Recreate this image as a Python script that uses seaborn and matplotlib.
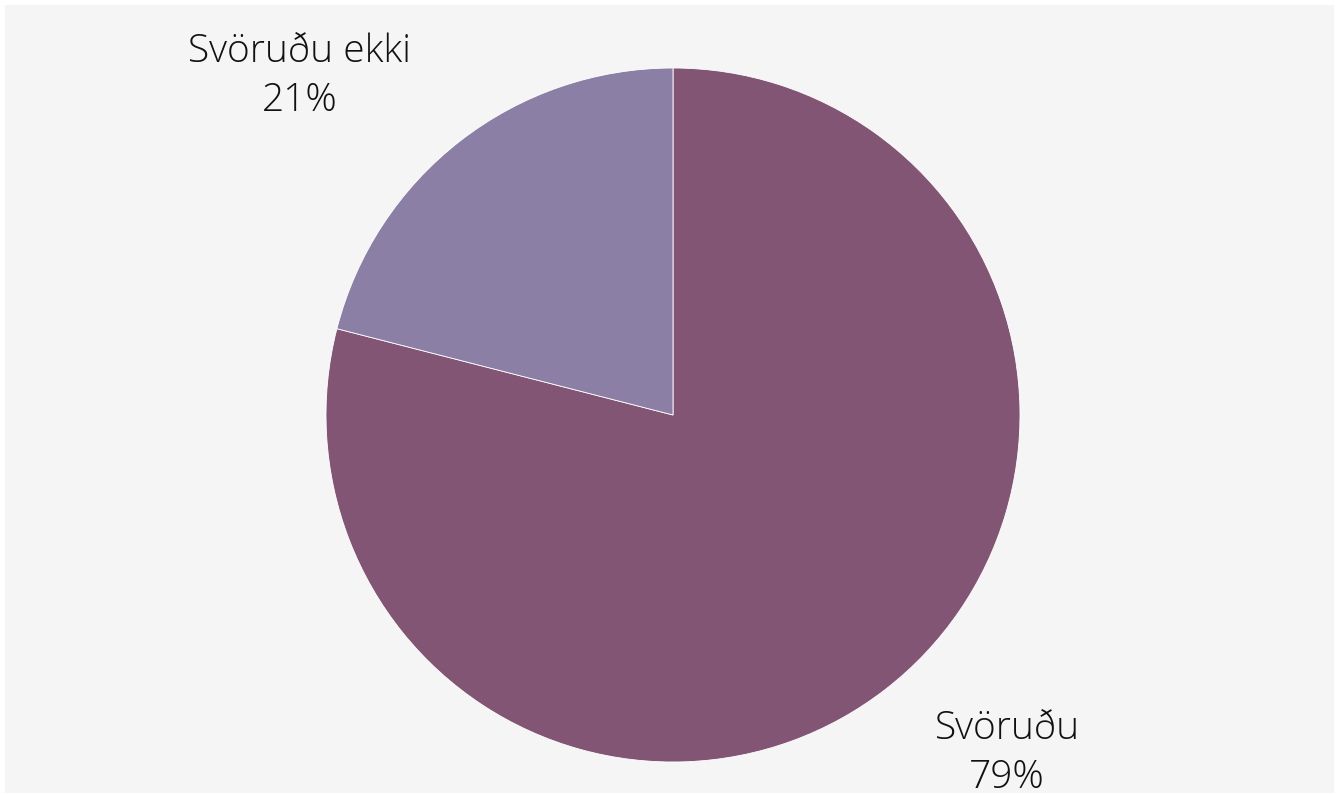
import matplotlib
matplotlib.use("Agg")
import matplotlib.pyplot as plt
import seaborn as sns
from matplotlib.patches import Rectangle

categories = ["Svöruðu", "Svöruðu ekki"]
shares = [79, 21]
colors = ["#825574", "#8b7fa6"]

sns.set_theme(style="white")
plt.rcParams["font.family"] = ["Open Sans", "DejaVu Sans"]

W, H = 1338, 794
fig = plt.figure(figsize=(W / 100, H / 100), dpi=100)
fig.patch.set_facecolor("white")
fig.patches.append(Rectangle((5 / W, 1 / H), 1329 / W, 788 / H, transform=fig.transFigure,
                             facecolor="#f5f5f5", edgecolor="none", zorder=-10))

cx, cy, r = 673, 415, 347
ax = fig.add_axes([(cx - r) / W, (H - cy - r) / H, 2 * r / W, 2 * r / H])
ax.set_facecolor("none")

ax.pie(shares, colors=colors, startangle=90, counterclock=False, radius=1,
       wedgeprops=dict(edgecolor="white", linewidth=0.6))
ax.set_xlim(-1, 1)
ax.set_ylim(-1, 1)
ax.set_aspect("equal")
ax.axis("off")

# label anchors (data units relative to pie radius)
label_pos = [(0.963, -0.975), (-1.075, 0.977)]
for cat, val, (x, y) in zip(categories, shares, label_pos):
    ax.text(x, y, f"{cat}\n{val}%", ha="center", va="center", fontsize=28,
            fontweight="light", color="#111111", linespacing=1.35)

fig.savefig("out.png", dpi=100, facecolor=fig.get_facecolor())
